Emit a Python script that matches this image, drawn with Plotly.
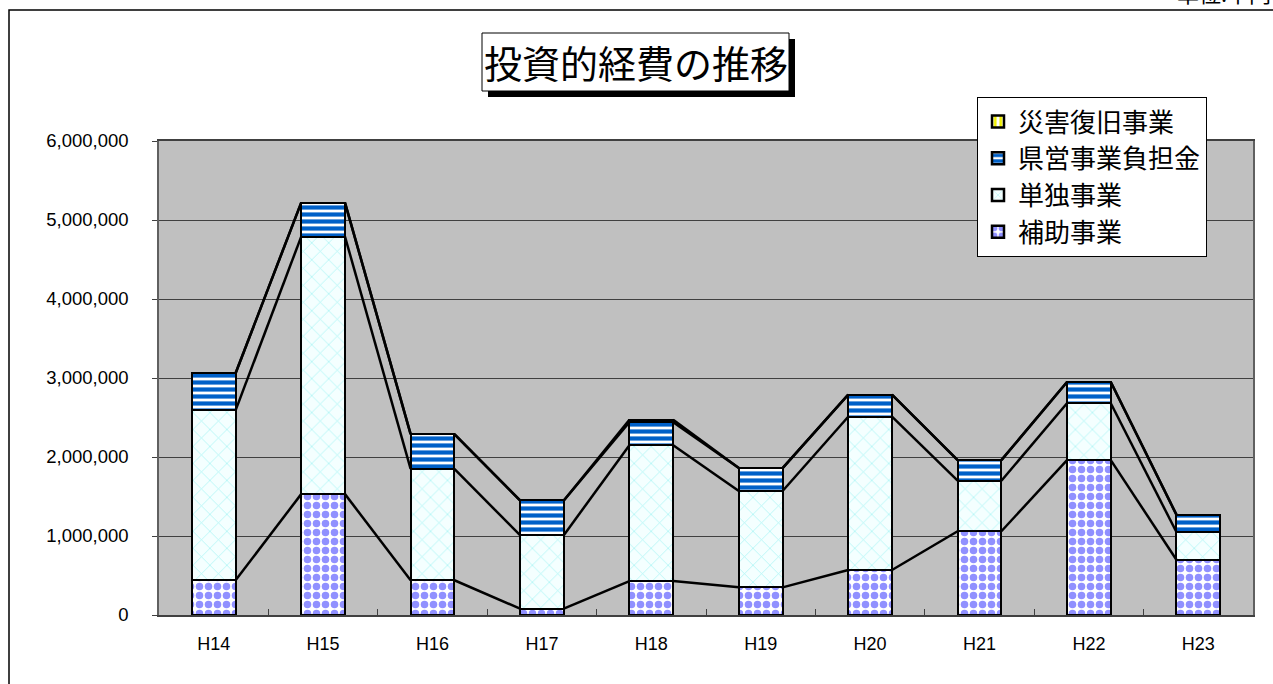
import plotly.graph_objects as go

# 年度区分
years = ["H14", "H15", "H16", "H17", "H18", "H19", "H20", "H21", "H22", "H23"]

# 事業別の投資的経費(千円)
hojo = [440000, 1530000, 440000, 80000, 430000, 350000, 570000, 1060000, 1960000, 700000]
tandoku = [2150000, 3260000, 1410000, 930000, 1720000, 1220000, 1940000, 640000, 720000, 350000]
kenei = [470000, 430000, 440000, 440000, 290000, 290000, 280000, 260000, 270000, 220000]
saigai = [0, 0, 0, 0, 30000, 0, 0, 0, 0, 0]

series = [
    ("補助事業", hojo, dict(shape=".", fgcolor="#9090FF", bgcolor="#FFFFFF", size=9, solidity=0.55)),
    ("単独事業", tandoku, dict(shape="x", fgcolor="#A8F4F4", bgcolor="#F4FFFF", size=12, solidity=0.12)),
    ("県営事業負担金", kenei, dict(shape="-", fgcolor="#0060C8", bgcolor="#FFFFFF", size=7, solidity=0.6)),
    ("災害復旧事業", saigai, dict(shape="|", fgcolor="#F0F000", bgcolor="#FFFFFF", size=7, solidity=0.5)),
]

W, H = 1273, 684
L, R, T, B = 159, 20, 141, 69
BAR_W = 0.40
xs = list(range(len(years)))

fig = go.Figure()

# 積み上げ棒
for name, vals, pat in series:
    fig.add_trace(go.Bar(
        x=xs, y=vals, name=name, width=BAR_W,
        marker=dict(color=pat["bgcolor"], pattern=dict(pat, fgopacity=1),
                    line=dict(color="#000000", width=2.5)),
    ))

# 区分線(各系列の累計上端を隣の棒と結ぶ)
cum = [0] * len(years)
for name, vals, pat in series:
    cum = [c + v for c, v in zip(cum, vals)]
    lx, ly = [], []
    for i in range(len(years) - 1):
        lx += [xs[i] + BAR_W / 2, xs[i + 1] - BAR_W / 2, None]
        ly += [cum[i], cum[i + 1], None]
    fig.add_trace(go.Scatter(x=lx, y=ly, mode="lines", showlegend=False,
                             line=dict(color="#000000", width=2.5), hoverinfo="skip"))


def px_x(p):
    return (p - L) / (W - L - R)


def px_y(p):
    return (H - B - p) / (H - T - B)


shapes = [
    # 外枠
    dict(type="rect", xref="paper", yref="paper",
         x0=px_x(9), x1=px_x(1290), y0=px_y(700), y1=px_y(10),
         line=dict(color="#000000", width=1.5), fillcolor="rgba(0,0,0,0)", layer="below"),
    # タイトル枠の影
    dict(type="rect", xref="paper", yref="paper",
         x0=px_x(488), x1=px_x(795), y0=px_y(97), y1=px_y(39),
         line=dict(width=0), fillcolor="#000000"),
    # タイトル枠
    dict(type="rect", xref="paper", yref="paper",
         x0=px_x(482), x1=px_x(789), y0=px_y(91), y1=px_y(33),
         line=dict(color="#000000", width=1), fillcolor="#FFFFFF"),
]

annotations = [
    dict(text="投資的経費の推移", xref="paper", yref="paper",
         x=px_x(636), y=px_y(62), xanchor="center", yanchor="middle",
         showarrow=False, font=dict(family="Noto Sans CJK JP", size=38, color="#000000")),
    dict(text="単位:千円", xref="paper", yref="paper",
         x=px_x(1273), y=px_y(10), xanchor="right", yanchor="bottom",
         showarrow=False, font=dict(family="Noto Sans CJK JP", size=22, color="#000000")),
]

fig.update_layout(
    width=W, height=H,
    margin=dict(l=L, r=R, t=T, b=B),
    barmode="stack",
    bargap=0,
    paper_bgcolor="#FFFFFF",
    plot_bgcolor="#C0C0C0",
    shapes=shapes,
    annotations=annotations,
    showlegend=True,
    legend=dict(
        x=px_x(977), y=px_y(97), xanchor="left", yanchor="top",
        bgcolor="#FFFFFF", bordercolor="#000000", borderwidth=1,
        traceorder="reversed",
        font=dict(family="Noto Sans CJK JP", size=26, color="#000000"),
        tracegroupgap=0,
        itemwidth=30,
    ),
    font=dict(family="Liberation Sans, Arial", color="#000000"),
)

fig.update_xaxes(
    range=[-0.5, len(years) - 0.5],
    tickmode="array", tickvals=xs, ticktext=years,
    ticks="", showgrid=False, zeroline=False,
    showline=True, linecolor="#404040", linewidth=1.5, mirror=True,
    tickfont=dict(family="Liberation Sans, Arial", size=18, color="#000000"),
    ticklabelstandoff=12,
    minor=dict(tickmode="array", tickvals=[i + 0.5 for i in xs[:-1]],
               ticks="inside", ticklen=6, tickcolor="#404040", tickwidth=1, showgrid=False),
)

fig.update_yaxes(
    range=[0, 6000000],
    tickmode="array", tickvals=[0, 1000000, 2000000, 3000000, 4000000, 5000000, 6000000],
    tickformat=",d",
    ticks="outside", ticklen=5, tickcolor="#404040",
    showgrid=True, gridcolor="#404040", gridwidth=1, zeroline=False,
    showline=True, linecolor="#606060", linewidth=1.5, mirror=True,
    tickfont=dict(family="Liberation Sans, Arial", size=18.5, color="#000000"),
    ticklabelstandoff=20,
)

fig.write_html("out.html")
